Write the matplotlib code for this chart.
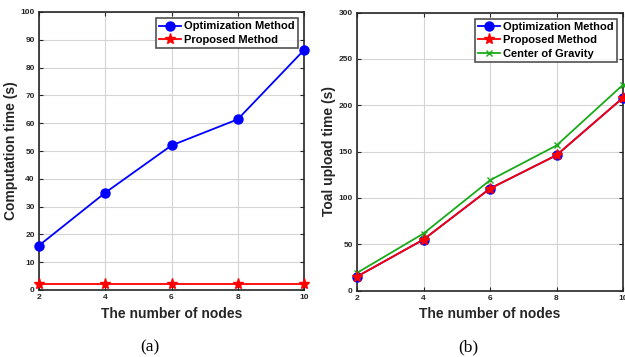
import matplotlib
matplotlib.use("Agg")
import matplotlib.pyplot as plt

nodes = [2, 4, 6, 8, 10]
a_opt = [16.0, 35.0, 52.0, 61.4, 86.3]
a_prop = [2.0, 2.0, 2.0, 2.0, 2.0]
b_opt = [15.0, 55.0, 110.0, 146.0, 208.0]
b_prop = [15.0, 55.0, 110.0, 146.0, 208.0]
b_cog = [19.0, 61.5, 119.0, 156.5, 222.0]

plt.rcParams['font.family'] = ['Liberation Sans', 'DejaVu Sans']

fig = plt.figure(figsize=(6.25, 3.57), dpi=100)
W, H = 625, 357
axa = fig.add_axes([39 / W, (H - 290) / H, 265 / W, 278 / H])
axb = fig.add_axes([357 / W, (H - 290.5) / H, 266 / W, 278 / H])

spine_c = '#262626'

def style(ax, ymax, ystep, ylabel):
    ax.set_xlim(2, 10)
    ax.set_ylim(0, ymax)
    ax.set_xticks(nodes)
    ax.set_yticks(range(0, ymax + 1, ystep))
    ax.grid(True, color='#d4d4d4', linewidth=0.8)
    ax.set_axisbelow(True)
    ax.tick_params(direction='in', top=True, right=True, length=3, width=0.8,
                   labelsize=6, colors=spine_c, pad=3)
    for lab in ax.get_xticklabels() + ax.get_yticklabels():
        lab.set_fontweight('bold')
    for s in ax.spines.values():
        s.set_color(spine_c)
        s.set_linewidth(1.2)
    ax.set_xlabel('The number of nodes', fontsize=10, fontweight='bold', color=spine_c, labelpad=4)
    ax.set_ylabel(ylabel, fontsize=10, fontweight='bold', color=spine_c)
    ax.yaxis.set_label_coords(-0.08, 0.5)

def legend(ax):
    leg = ax.legend(loc='upper right', prop={'weight': 'bold', 'size': 8.0},
                    frameon=True, fancybox=False, edgecolor=spine_c, borderpad=0.3,
                    handlelength=1.9, handletextpad=0.3, labelspacing=0.3,
                    borderaxespad=0.55)
    leg.get_frame().set_linewidth(1.2)

axa.plot(nodes, a_opt, color='blue', marker='o', markersize=6.5, linewidth=1.3,
         label='Optimization Method', clip_on=False, zorder=3)
axa.plot(nodes, a_prop, color='red', marker='*', markersize=8, linewidth=1.3,
         label='Proposed Method', clip_on=False, zorder=3)
style(axa, 100, 10, 'Computation time (s)')
legend(axa)

axb.plot(nodes, b_opt, color='blue', marker='o', markersize=6.5, linewidth=1.3,
         label='Optimization Method', clip_on=False, zorder=3)
axb.plot(nodes, b_prop, color='red', marker='*', markersize=8, linewidth=1.3,
         label='Proposed Method', clip_on=False, zorder=4)
axb.plot(nodes, b_cog, color='#1aaa1a', marker='x', markersize=5, linewidth=1.3,
         label='Center of Gravity', clip_on=False, zorder=3)
style(axb, 300, 50, 'Toal upload time (s)')
legend(axb)

fig.text(150 / W, 1 - 347 / H, '(a)', ha='center', va='center', fontsize=12.5,
         family=['Liberation Serif', 'DejaVu Serif'])
fig.text(468 / W, 1 - 347 / H, '(b)', ha='center', va='center', fontsize=12.5,
         family=['Liberation Serif', 'DejaVu Serif'])

fig.savefig('out.png', dpi=100)
